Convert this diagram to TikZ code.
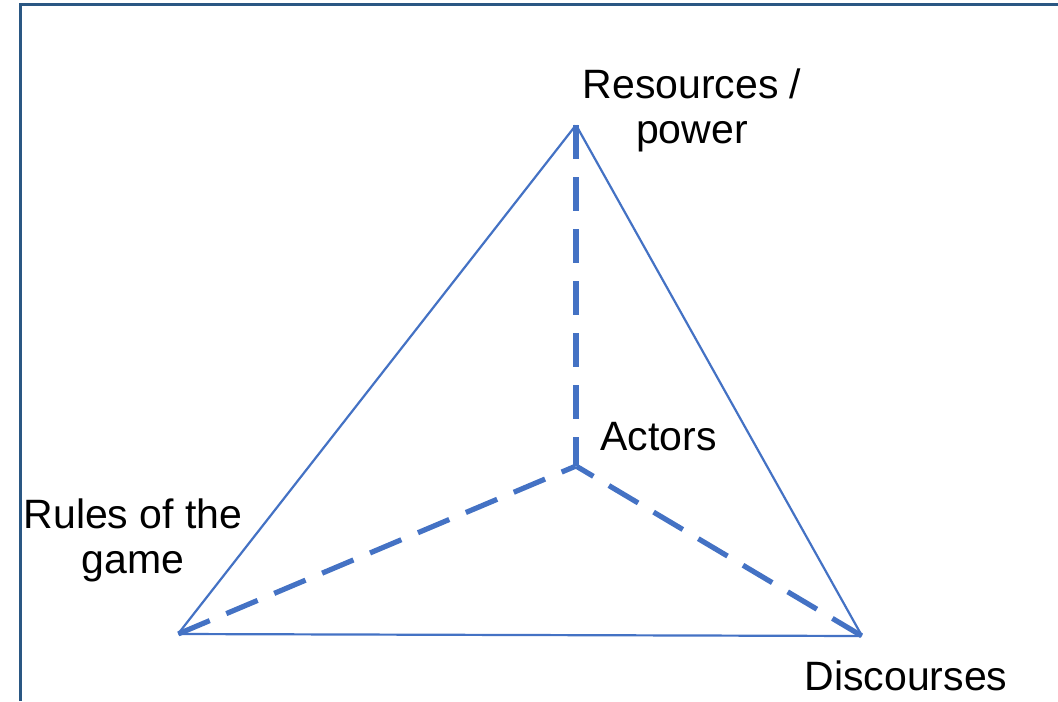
\documentclass[tikz,border=0pt]{standalone}
\usepackage{fontspec}
\setmainfont{Liberation Sans}
\definecolor{triblue}{HTML}{4472C4}
\definecolor{frameblue}{HTML}{2A5783}
\begin{document}
\begin{tikzpicture}[x=0.5pt,y=-0.5pt,
  main node/.style={inner sep=0pt,minimum size=0pt},
  text node/.style={align=center,inner sep=0pt,font=\fontsize{20.5}{22.5}\selectfont}]
  \useasboundingbox (0,0) rectangle (1058,701);
  \draw[frameblue,line width=1.5pt] (20,701) -- (20,5) -- (1058,5);

  \node[main node] (1) at (576,125) {};
  \node[main node] (2) at (862,636) {};
  \node[main node] (3) at (178,634) {};
  \node[main node] (4) at (576,466) {};

  \node[text node] (11) at (692,110) {Resources /\\power};
  \node[text node,anchor=west] (12) at (600,437) {Actors};
  \node[text node] (13) at (133,540) {Rules of the\\game};
  \node[text node] (14) at (906,676) {Discourses};

  \path[triblue,line width=1.1pt]
   (1) edge (2)
   (2) edge (3)
   (3) edge (1);
  \path[triblue,line width=2.6pt,dash pattern=on 17pt off 9pt]
   (1) edge (4)
   (3) edge (4)
   (2) edge (4);
\end{tikzpicture}
\end{document}
